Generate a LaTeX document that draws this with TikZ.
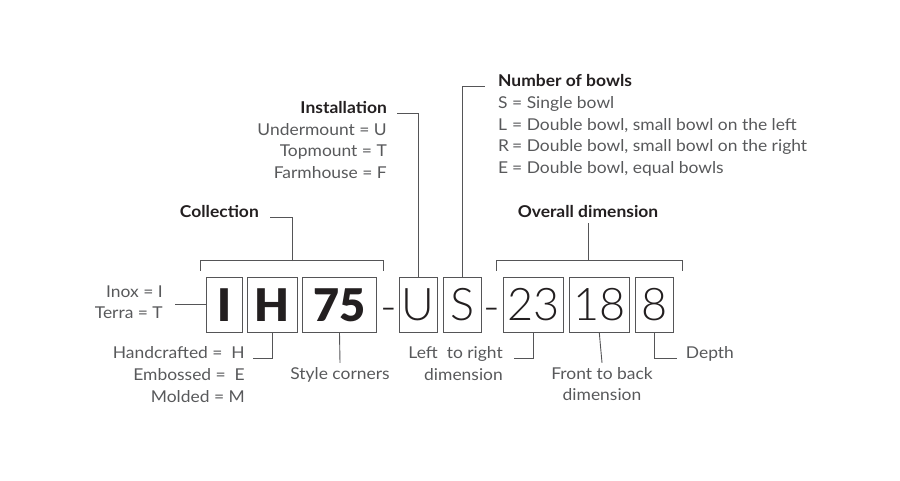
\documentclass[tikz,border=0pt]{standalone}
\usepackage{fontspec}
\setmainfont{Lato}[FakeStretch=1.07]
\newfontfamily\lightdigits{Lato Light}
\newfontfamily\heavydigits{Lato Black}
\definecolor{txtgray}{RGB}{88,89,91}
\definecolor{headblack}{RGB}{35,31,32}
\definecolor{linegray}{RGB}{85,85,87}
\tikzset{
  lbl/.style={inner sep=0pt, text=txtgray, font=\fontsize{16.3}{19}\selectfont},
  head/.style={inner sep=0pt, text=headblack, font=\fontsize{16.3}{19}\selectfont\bfseries},
  cbox/.style={draw=linegray, line width=1pt, inner sep=0pt, minimum height=55pt, text=headblack},
  ln/.style={draw=linegray, line width=0.9pt},
}
\begin{document}
\begin{tikzpicture}[x=1pt,y=-1pt]
\useasboundingbox (0,0) rectangle (900,480);
% code boxes
\foreach \n/\x/\w in {I/224.7/36, H/272.3/50, 75/339.5/74.4}{
  \node[cbox, minimum width=\w pt, font=\fontsize{45}{45}\heavydigits] (b\n) at (\x,304.8) {\n};
}
\foreach \n/\x/\w in {U/418.3/38, S/462.5/38.4, 23/533.3/60, 18/599.3/60, 8/654.3/38}{
  \node[cbox, minimum width=\w pt, font=\fontsize{45}{45}\lightdigits] (b\n) at (\x,304.8) {\n};
}
\node[inner sep=0pt, anchor=base, text=headblack, font=\fontsize{45}{45}\lightdigits] (d1) at (388.5,322.3) {-};
\node[inner sep=0pt, anchor=base, text=headblack, font=\fontsize{45}{45}\lightdigits] (d2) at (492.2,322.3) {-};
% labels above
\node[head, anchor=base west] (nob) at (498,86) {Number of bowls};
\node[lbl, anchor=base west] (nobS) at (498,108.5) {\makebox[14pt][l]{S}= Single bowl};
\node[lbl, anchor=base west] (nobL) at (498,130) {\makebox[14pt][l]{L}= Double bowl, small bowl on the left};
\node[lbl, anchor=base west] (nobR) at (498,151.5) {\makebox[14pt][l]{R}= Double bowl, small bowl on the right};
\node[lbl, anchor=base west] (nobE) at (498,173) {\makebox[14pt][l]{E}= Double bowl, equal bowls};
\node[head, anchor=base east] (inst) at (387,113) {Installation};
\node[lbl, anchor=base east] (instU) at (387,135.5) {Undermount = U};
\node[lbl, anchor=base east] (instT) at (387,156.5) {Topmount =\ T};
\node[lbl, anchor=base east] (instF) at (387,178.5) {Farmhouse = F};
\node[head, anchor=base east] (coll) at (259,217) {Collection};
\node[head, anchor=base] (ov) at (588,217) {Overall dimension};
% labels left and below
\node[lbl, anchor=base east] (inox) at (163,297) {Inox = I};
\node[lbl, anchor=base east] (terra) at (163,318.5) {Terra = T};
\node[lbl, anchor=base east] (hand) at (245,358.5) {Handcrafted =\ \ H};
\node[lbl, anchor=base east] (emb) at (245,380.5) {Embossed =\ \ E};
\node[lbl, anchor=base east] (mold) at (245,402) {Molded = M};
\node[lbl, anchor=base] (sc) at (340,379) {Style corners};
\node[lbl, anchor=base east] (lr) at (503,358.5) {Left\ \ to right};
\node[lbl, anchor=base east] (lrd) at (503,380.5) {dimension};
\node[lbl, anchor=base] (fb) at (602,379) {Front to back};
\node[lbl, anchor=base] (fbd) at (602,400.5) {dimension};
\node[lbl, anchor=base west] (dp) at (685.7,358.5) {Depth};
% brackets
\draw[ln] ([xshift=-5.5pt,yshift=6pt]bI.north west) -- ++(0,-10) -- ([xshift=6pt,yshift=16pt]b75.north east) -- ++(0,10);
\draw[ln] (292,261) |- ([xshift=11pt]coll.base east);
\draw[ln] ([xshift=-6pt,yshift=6pt]b23.north west) -- ++(0,-10) -- ([xshift=8.4pt,yshift=16pt]b8.north east) -- ++(0,10);
\draw[ln] ([yshift=16pt]ov.south |- b23.north) -- ([yshift=-6pt]ov.south);
% connectors
\draw[ln] (bU.north) |- ([xshift=10pt]inst.base east);
\draw[ln] (bS.north) |- ([xshift=-13pt]nob.base west);
\draw[ln] (bI.west) -- ([xshift=12pt]bI.west -| inox.east);
\draw[ln] (bH.south) |- ([xshift=8pt]hand.base east);
\draw[ln] (b75.south) -- ([yshift=4pt]sc.north);
\draw[ln] (b23.south) |- ([xshift=11pt]lr.base east);
\draw[ln] (b18.south) -- ([yshift=4pt]fb.north);
\draw[ln] (b8.south) |- ([xshift=-9pt]dp.base west);
\end{tikzpicture}
\end{document}
